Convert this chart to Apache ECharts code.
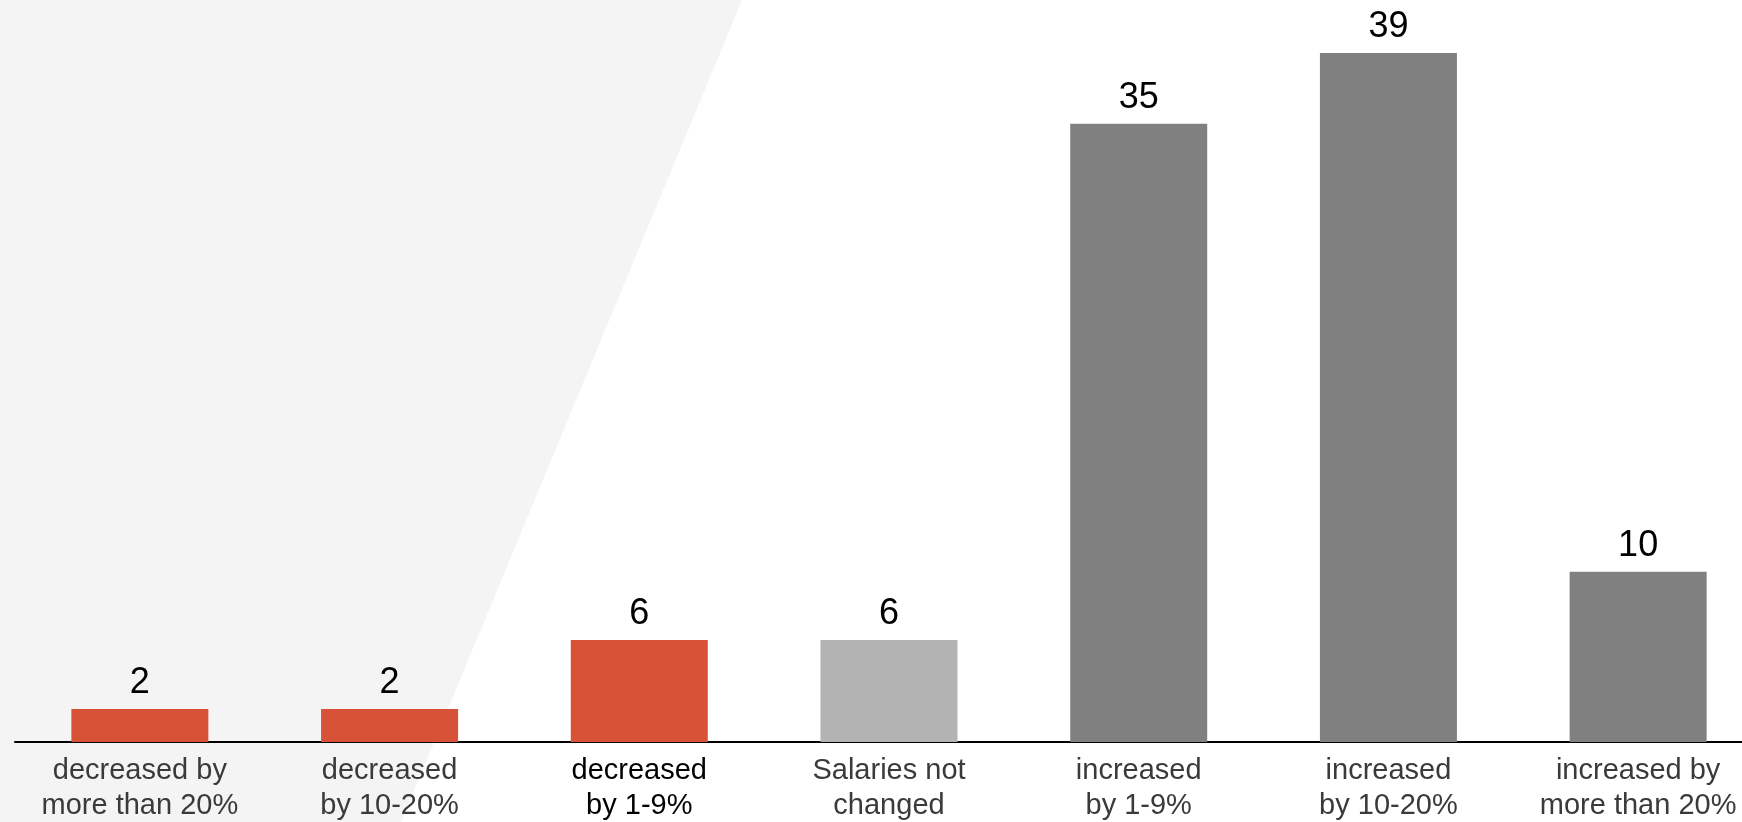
<!DOCTYPE html>
<html>
<head>
<meta charset="utf-8">
<script src="https://cdn.jsdelivr.net/npm/echarts@6/dist/echarts.min.js"></script>
<style>
html,body{margin:0;padding:0;background:#fff;overflow:hidden;width:1742px;height:822px;}
#chart{width:1770px;height:822px;}
</style>
</head>
<body>
<div id="chart"></div>
<script>
// ---- data ----
const categories = [
  "decreased by\nmore than 20%",
  "decreased\nby 10-20%",
  "decreased\nby 1-9%",
  "Salaries not\nchanged",
  "increased\nby 1-9%",
  "increased\nby 10-20%",
  "increased by\nmore than 20%"
];
const values = [1.87, 1.87, 5.77, 5.77, 35, 39, 9.64];

// ---- styles ----
const barColors = ["#d75237", "#d75237", "#d75237", "#b3b3b3", "#808080", "#808080", "#808080"];
const labelColors = ["#3a3a3a", "#3a3a3a", "#000000", "#3a3a3a", "#3a3a3a", "#3a3a3a", "#3a3a3a"];
const FONT = "'Liberation Sans', Arial, sans-serif";

const chart = echarts.init(document.getElementById('chart'), null, {renderer: 'canvas'});
chart.setOption({
  animation: false,
  backgroundColor: '#ffffff',
  graphic: [{
    type: 'polygon',
    z: 0,
    silent: true,
    shape: {points: [[0, 0], [742, 0], [401, 822], [0, 822]]},
    style: {fill: '#f4f4f4'}
  }],
  grid: {left: 15, top: 0, right: 7, height: 742, containLabel: false, outerBoundsMode: 'none'},
  xAxis: {
    type: 'category',
    data: categories.map((c, i) => ({value: c, textStyle: {color: labelColors[i]}})),
    axisLine: {show: true, lineStyle: {color: '#000', width: 2}},
    axisTick: {show: false},
    axisLabel: {
      interval: 0,
      margin: 11,
      fontFamily: FONT,
      fontSize: 29,
      lineHeight: 35,
      color: '#3a3a3a'
    },
    splitLine: {show: false}
  },
  yAxis: {
    type: 'value',
    min: 0,
    max: 42,
    show: false,
    splitLine: {show: false}
  },
  series: [{
    type: 'bar',
    z: 2,
    barWidth: 137,
    data: values.map((v, i) => ({value: v, itemStyle: {color: barColors[i]}})),
    label: {
      show: true,
      position: 'top',
      distance: 8,
      fontFamily: FONT,
      fontSize: 36,
      color: '#000',
      formatter: p => String(Math.round(p.value))
    }
  }]
});
</script>
</body>
</html>
